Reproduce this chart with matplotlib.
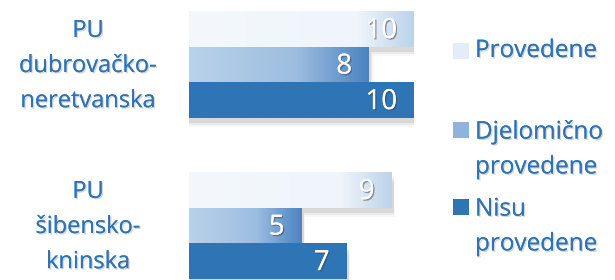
import numpy as np
import matplotlib.pyplot as plt
import matplotlib.patheffects as pe
from matplotlib.colors import LinearSegmentedColormap
from matplotlib.patches import Rectangle

plt.rcParams['font.family'] = ['Open Sans', 'DejaVu Sans']

# Data
categories = ["PU\ndubrovačko-\nneretvanska", "PU\nšibensko-\nkninska"]
series = ["Provedene", "Djelomično\nprovedene", "Nisu\nprovedene"]
provedene = [10, 9]
djelomicno = [8, 5]
nisu = [10, 7]

text_blue = '#2e74b5'
cmaps = [
    LinearSegmentedColormap.from_list('p', [(0, '#f4f8fc'), (0.75, '#eff5fb'), (1, '#bcd3ea')]),
    LinearSegmentedColormap.from_list('d', [(0, '#bad2ea'), (0.6, '#9cbde0'), (1, '#4b83c1')]),
    LinearSegmentedColormap.from_list('n', ['#2e75b6', '#2e75b6']),
]
legend_colors = ['#e4edf7', '#8fb3dc', '#2e75b6']

fig = plt.figure(figsize=(6.15, 2.8), dpi=100)
ax = fig.add_axes([189 / 615, 0, 225 / 615, 1])

h = 35.5 / 161
grad = np.linspace(0, 1, 256).reshape(1, -1)
values = [provedene, djelomicno, nisu]
for i in range(len(categories)):
    for j, vals in enumerate(values):
        v = vals[i]
        y = i + (j - 1) * h
        # soft drop shadow
        for k, a in enumerate([0.07, 0.05, 0.03]):
            off = 0.012 * (k + 1)
            ax.add_patch(Rectangle((0, y - h / 2 + 0.02 + off), v + 0.06 + off * 3, h,
                                   color='black', alpha=a, lw=0, zorder=1 + j * 3))
        ax.imshow(grad, cmap=cmaps[j], extent=[0, v, y + h / 2, y - h / 2],
                  aspect='auto', zorder=2 + j * 3, interpolation='bilinear')
        t = ax.text(v - 0.75, y + 0.01, str(v), ha='right', va='center',
                    fontsize=20, color='white', zorder=10)
        t.set_path_effects([pe.withSimplePatchShadow(offset=(1, -1), shadow_rgbFace='#404040', alpha=0.5), pe.Normal()])

ax.set_xlim(0, 10)
ax.set_ylim((280 - 65) / 161, -65 / 161)
ax.axis('off')

# category labels
label_y = [66, 227]
for i, c in enumerate(categories):
    t = fig.text(88 / 615, 1 - label_y[i] / 280, c, ha='center', va='center',
                 fontsize=17, color=text_blue, linespacing=1.62)
    t.set_path_effects([pe.withSimplePatchShadow(offset=(1, -1), shadow_rgbFace='#999999', alpha=0.4), pe.Normal()])

# legend
leg_y = [51, 150, 227]
box_y = [51, 130, 207]
for s, col, yy, by in zip(series, legend_colors, leg_y, box_y):
    fig.patches.append(Rectangle((453 / 615, 1 - (by + 8) / 280), 16 / 615, 16 / 280,
                                 transform=fig.transFigure, color=col, lw=0))
    t = fig.text(475 / 615, 1 - yy / 280, s, ha='left', va='center',
                 fontsize=17.5, color=text_blue, linespacing=1.6)
    t.set_path_effects([pe.withSimplePatchShadow(offset=(1, -1), shadow_rgbFace='#999999', alpha=0.4), pe.Normal()])

fig.savefig('out.png', dpi=100)
